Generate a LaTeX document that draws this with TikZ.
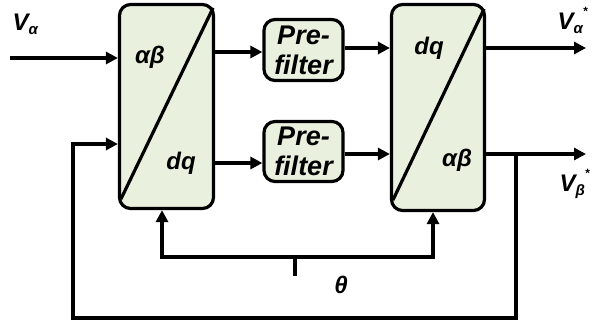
\documentclass[tikz,border=0pt]{standalone}
\usepackage{fontspec}
\setmainfont{Liberation Sans}
\usetikzlibrary{arrows.meta,calc}
\definecolor{blockfill}{RGB}{234,240,222}
\newcommand\lbl{\bfseries\itshape\fontsize{24}{26}\selectfont}
\newcommand\pflbl{\bfseries\itshape\fontsize{27}{30}\selectfont}
\newcommand\vlbl{\bfseries\itshape\fontsize{24}{25}\selectfont}
\newcommand\sub[1]{\raisebox{-4pt}{\fontsize{15}{15}\selectfont #1}}
\newcommand\str{\raisebox{14pt}{\fontsize{12}{12}\selectfont *}}
\begin{document}
\begin{tikzpicture}[x=1pt,y=-1pt,line width=3.2pt,
  block/.style={draw,fill=blockfill,rounded corners=11pt,inner sep=0pt},
  txt/.style={font=\lbl,inner sep=0pt,align=center},
  sig/.style={-{Triangle[length=12pt,width=12pt]}}]
\useasboundingbox (0,0) rectangle (593,324);

% transformation blocks
\node[block,minimum width=94pt,minimum height=204pt] (L) at (166.5,106.5) {};
\node[block,minimum width=93pt,minimum height=206pt] (R) at (438,107.5) {};
\draw ($(L.south west)+(3,-11)$) -- ($(L.north east)+(-2,5)$);
\draw ($(R.south west)+(3,-12)$) -- ($(R.north east)+(-2,6)$);
\node[txt] (L1) at (150,57) {αβ};
\node[txt] (L2) at (181,163) {dq};
\node[txt] (R1) at (429,48) {dq};
\node[txt] (R2) at (457,160) {αβ};

% pre-filters
\node[block,minimum width=79pt,minimum height=61pt,txt,font=\pflbl] (P1) at (303.5,50) {Pre-\\filter};
\node[block,minimum width=79pt,minimum height=60pt,txt,font=\pflbl] (P2) at (303.5,151.5) {Pre-\\filter};

% signal rows
\coordinate (vin) at (10,58);
\coordinate (r1) at (0,52);
\coordinate (r2) at (0,163);
\coordinate (q1) at (0,48);
\coordinate (q2) at (0,154);
\coordinate (oa) at (586,48);
\coordinate (ob) at (586,154);
\coordinate (br) at (516,154);
\coordinate (fb) at (73,144);
\coordinate (ta) at (162,257);
\coordinate (tb) at (433,257);
\coordinate (th) at (295,257);

\draw[sig] (vin) -- (vin -| L.west);
\draw[sig] (L.east |- r1) -- (P1.west |- r1);
\draw[sig] (L.east |- r2) -- (P2.west |- r2);
\draw[sig] (P1.east |- q1) -- (R.west |- q1);
\draw[sig] (P2.east |- q2) -- (R.west |- q2);
\draw[sig] (R.east |- oa) -- (oa);
\draw[sig] (R.east |- ob) -- (ob);

% feedback of the output
\draw[sig] (br) -- (br |- 0,318) -- (fb |- 0,318) -- (fb) -- (fb -| L.west);

% angle to both blocks
\draw[sig] (th) -- (ta) -- (ta |- L.south);
\draw[sig] (th) -- (tb) -- (tb |- R.south);
\draw (th) -- ++(0,19);

% labels
\node[txt,font=\vlbl,anchor=base west] (va) at (11,30) {V\sub{α}};
\node[txt,font=\vlbl,anchor=base west] (vas) at (556,29) {V\sub{α}\str};
\node[txt,font=\vlbl,anchor=base west] (vbs) at (558,191) {V\sub{β}\str};
\node[txt,font=\bfseries\itshape\fontsize{24}{25}\selectfont] (tht) at (341,285) {θ};
\end{tikzpicture}
\end{document}
